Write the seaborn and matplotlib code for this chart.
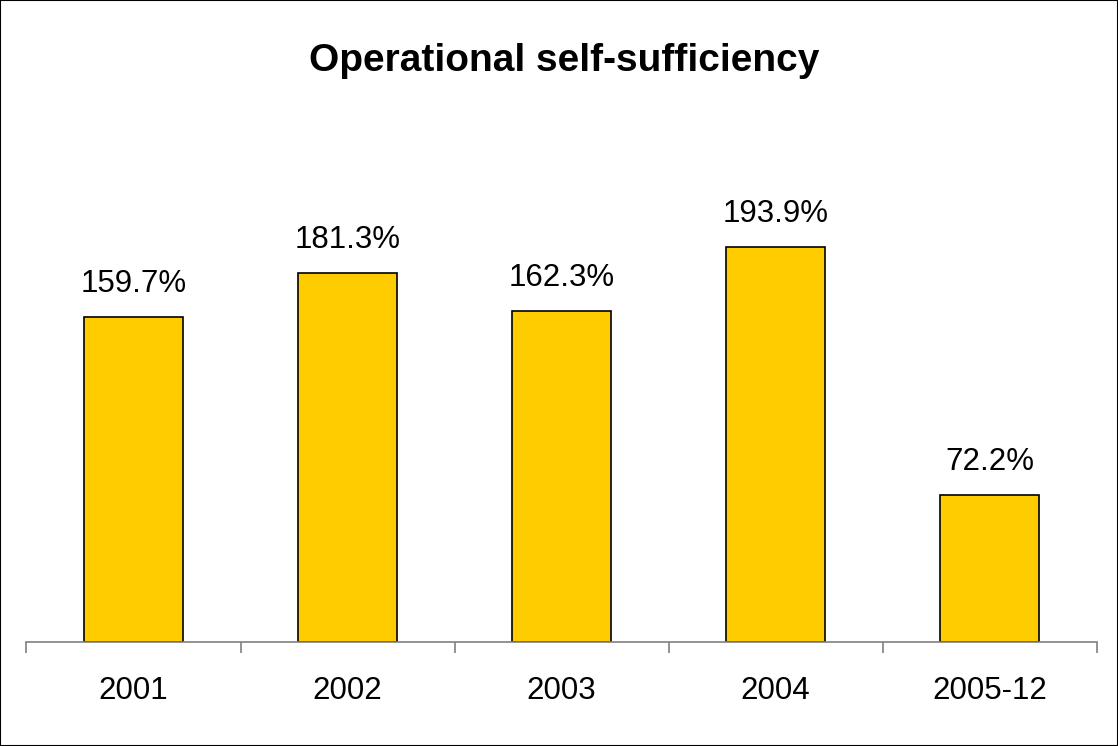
import matplotlib
matplotlib.use("Agg")
import matplotlib.pyplot as plt
import seaborn as sns
import pandas as pd
from matplotlib.patches import Rectangle

categories = ["2001", "2002", "2003", "2004", "2005-12"]
values = [159.7, 181.3, 162.3, 193.9, 72.2]
labels = ["159.7%", "181.3%", "162.3%", "193.9%", "72.2%"]
title = "Operational self-sufficiency"

sns.set_style("white")
plt.rcParams['font.family'] = ['Liberation Sans', 'DejaVu Sans']
plt.rcParams['text.color'] = 'black'
plt.rcParams['xtick.color'] = 'black'
plt.rcParams['xtick.labelcolor'] = 'black'

fig = plt.figure(figsize=(11.18, 7.46), dpi=100)
ax = fig.add_axes([0.0237, 0.140, 0.9573, 0.682])

df = pd.DataFrame({"cat": categories, "val": values})
sns.barplot(data=df, x="cat", y="val", ax=ax, color="#FFCC00",
            edgecolor="black", linewidth=1.2, width=0.46, saturation=1)

ax.set_ylim(0, 250)
ax.set_xlim(-0.5, len(categories) - 0.5)
ax.set_xlabel("")
ax.set_ylabel("")
ax.set_yticks([])
for s in ["left", "right", "top"]:
    ax.spines[s].set_visible(False)
ax.spines["bottom"].set_color("#808080")
ax.spines["bottom"].set_linewidth(1.2)

ax.set_xticks(range(len(categories)))
ax.set_xticklabels(categories, fontsize=22.5, color="black")
ax.tick_params(axis="x", which="major", bottom=True, length=0, pad=25)
ax.set_xticks([i - 0.5 for i in range(len(categories) + 1)], minor=True)
ax.tick_params(axis="x", which="minor", bottom=True, length=8, width=1.2,
               color="#808080", direction="out")

ax.bar_label(ax.containers[0], labels=labels, padding=13, fontsize=22.5, color="black")

fig.text(0.505, 0.918, title, ha="center", va="center", fontsize=28,
         fontweight="bold", color="black")

fig.patches.append(Rectangle((0, 0), 1, 1, transform=fig.transFigure, fill=False,
                             edgecolor="black", linewidth=1.5))

fig.savefig("out.png", dpi=100)
